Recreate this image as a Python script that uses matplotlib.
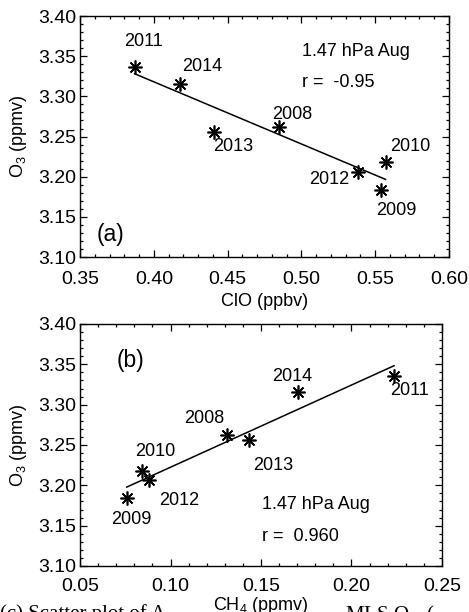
import numpy as np
import matplotlib
matplotlib.use("Agg")
import matplotlib.pyplot as plt
from matplotlib.ticker import MultipleLocator, FormatStrFormatter

plt.rcParams['font.family'] = ['Liberation Sans', 'DejaVu Sans']
plt.rcParams['mathtext.fontset'] = 'custom'
plt.rcParams['mathtext.rm'] = 'Liberation Sans'
plt.rcParams['mathtext.default'] = 'regular'

# August means at 1.47 hPa
years = ['2008', '2009', '2010', '2011', '2012', '2013', '2014']
o3 = [3.262, 3.184, 3.218, 3.336, 3.206, 3.256, 3.316]
clo = [0.485, 0.554, 0.557, 0.387, 0.538, 0.441, 0.418]
ch4 = [0.131, 0.0758, 0.0844, 0.2235, 0.0881, 0.1435, 0.1706]

# Year label positions (data coords, centered)
clo_lab_x = [0.494, 0.564, 0.574, 0.393, 0.519, 0.454, 0.433]
clo_lab_y = [3.278, 3.158, 3.237, 3.368, 3.196, 3.237, 3.337]
ch4_lab_x = [0.1189, 0.0784, 0.0913, 0.2319, 0.105, 0.1568, 0.1672]
ch4_lab_y = [3.283, 3.158, 3.2416, 3.317, 3.1816, 3.225, 3.3355]

r_clo = "-0.95"
r_ch4 = "0.960"

FS_TICK = 14
FS = 13

fig = plt.figure(figsize=(4.69, 6.12), dpi=100)
ax1 = fig.add_axes([0.1706, 0.580, 0.7868, 0.3938])
ax2 = fig.add_axes([0.1706, 0.0752, 0.7718, 0.3954])


def style(ax, xlo, xhi, xpad):
    ax.set_xlim(xlo, xhi)
    ax.set_ylim(3.10, 3.40)
    ax.xaxis.set_major_locator(MultipleLocator(0.05))
    ax.xaxis.set_minor_locator(MultipleLocator(0.01))
    ax.yaxis.set_major_locator(MultipleLocator(0.05))
    ax.yaxis.set_minor_locator(MultipleLocator(0.01))
    ax.xaxis.set_major_formatter(FormatStrFormatter('%.2f'))
    ax.yaxis.set_major_formatter(FormatStrFormatter('%.2f'))
    ax.tick_params(which='both', direction='in', top=True, right=True,
                   width=0.9, labelsize=FS_TICK, colors='black')
    ax.tick_params(which='major', length=5)
    ax.tick_params(which='minor', length=2.5)
    ax.tick_params(axis='x', pad=xpad)
    ax.tick_params(axis='y', pad=3)
    for s in ax.spines.values():
        s.set_linewidth(1.0)
    ax.set_ylabel('O$_3$ (ppmv)', fontsize=FS)
    w = ax.get_position().width * 469
    ax.yaxis.set_label_coords(-51 / w, 0.5)


def panel(ax, x, lab_x, lab_y):
    x = np.asarray(x)
    y = np.asarray(o3)
    slope, icpt = np.polyfit(x, y, 1)
    xs = np.array([x.min(), x.max()])
    ax.plot(xs, slope * xs + icpt, color='black', lw=1.1)
    ax.plot(x, y, linestyle='none', marker=(8, 2, 0), markersize=10,
            markeredgewidth=1.2, color='black')
    for t, lx, ly in zip(years, lab_x, lab_y):
        ax.text(lx, ly, t, fontsize=FS, ha='center', va='center')


style(ax1, 0.35, 0.60, 10)
panel(ax1, clo, clo_lab_x, clo_lab_y)
ax1.text(0.5004, 3.356, '1.47 hPa Aug', fontsize=FS, ha='left', va='center')
ax1.text(0.5004, 3.3175, 'r =  ' + r_clo, fontsize=FS, ha='left', va='center')
ax1.text(0.3613, 3.1276, '(a)', fontsize=16.5, ha='left', va='center')
ax1.set_xlabel('ClO (ppbv)', fontsize=FS, labelpad=4)

style(ax2, 0.05, 0.25, 8.5)
panel(ax2, ch4, ch4_lab_x, ch4_lab_y)
ax2.text(0.1504, 3.1767, '1.47 hPa Aug', fontsize=FS, ha='left', va='center')
ax2.text(0.1504, 3.137, 'r =  ' + r_ch4, fontsize=FS, ha='left', va='center')
ax2.text(0.0703, 3.355, '(b)', fontsize=16.5, ha='left', va='center')
ax2.set_xlabel('CH$_4$ (ppmv)', fontsize=FS)
ax2.xaxis.set_label_coords(0.5, -29.5 / 242)
ax2.xaxis.label.set_bbox(dict(facecolor='white', edgecolor='none', pad=0))

# Figure caption running off the bottom edge
fig.text(0.0, 1 - 604 / 612, '(c) Scatter plot of A', fontsize=15,
         family='Liberation Serif', ha='left', va='top', zorder=-1)
fig.text(345 / 469, 1 - 604 / 612, 'MLS O$_3$  (', fontsize=15,
         family='Liberation Serif', ha='left', va='top', zorder=-1)

fig.savefig('out.png', dpi=100)
